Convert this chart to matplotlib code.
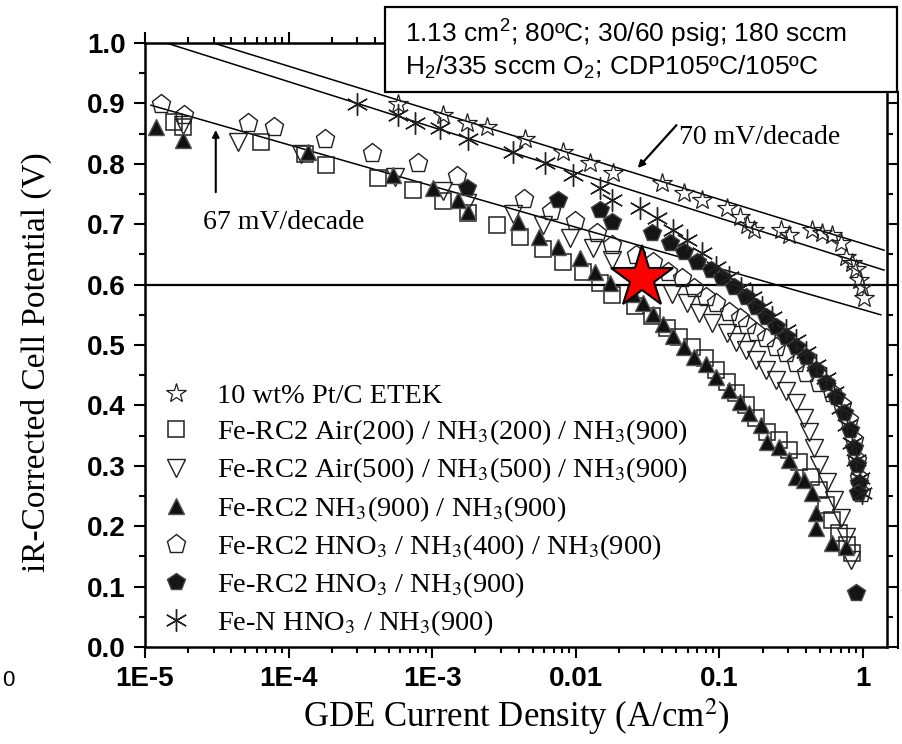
import matplotlib
matplotlib.use("Agg")
import matplotlib.pyplot as plt
import matplotlib.ticker as mtick
from matplotlib.patches import Rectangle
from matplotlib.lines import Line2D

plt.rcParams['mathtext.fontset'] = 'custom'
plt.rcParams['mathtext.rm'] = 'Liberation Sans'
plt.rcParams['mathtext.it'] = 'Liberation Sans:italic'
plt.rcParams['mathtext.bf'] = 'Liberation Sans:bold'

# ---- data (current density A/cm2, potential V) ----
pt_x = [5.8e-4, 1.19e-3, 1.75e-3, 2.41e-3, 4.43e-3, 8.1e-3, 0.0125, 0.0181, 0.0396, 0.0571,
        0.0762, 0.112, 0.138, 0.156, 0.175, 0.270, 0.306, 0.443, 0.519, 0.609, 0.703, 0.762,
        0.839, 0.894, 0.938, 0.985, 1.02]
pt_y = [0.899, 0.881, 0.868, 0.861, 0.841, 0.820, 0.801, 0.785, 0.768, 0.752,
        0.740, 0.727, 0.712, 0.699, 0.690, 0.690, 0.682, 0.690, 0.685, 0.682, 0.669, 0.646,
        0.636, 0.626, 0.608, 0.596, 0.578]

air200_x = [1.59e-5, 1.84e-5, 6.4e-5, 1.31e-4, 1.81e-4, 4.2e-4, 7.4e-4, 1.19e-3, 1.78e-3, 2.83e-3,
            4.08e-3, 5.9e-3, 8.1e-3, 0.0112, 0.0147, 0.0178, 0.0257, 0.0337, 0.0428, 0.0527,
            0.064, 0.0787, 0.095, 0.112, 0.131, 0.154, 0.181, 0.215, 0.261, 0.306,
            0.36, 0.435, 0.494, 0.553, 0.609, 0.681, 0.774, 0.839]
air200_y = [0.869, 0.861, 0.836, 0.816, 0.798, 0.776, 0.757, 0.738, 0.719, 0.699,
            0.679, 0.659, 0.637, 0.621, 0.603, 0.583, 0.565, 0.548, 0.528, 0.513,
            0.497, 0.478, 0.459, 0.439, 0.421, 0.401, 0.379, 0.356, 0.343, 0.326,
            0.306, 0.281, 0.260, 0.235, 0.210, 0.189, 0.169, 0.156]

air500_x = [1.84e-5, 4.43e-5, 1.21e-4, 5.5e-4, 1.19e-3, 1.75e-3, 3.65e-3, 5.9e-3, 9.1e-3, 0.0131,
            0.0178, 0.0278, 0.0464, 0.059, 0.0726, 0.0894, 0.112, 0.131, 0.154, 0.181,
            0.212, 0.249, 0.292, 0.343, 0.389, 0.422, 0.457, 0.494, 0.562, 0.629,
            0.703, 0.762, 0.826]
air500_y = [0.864, 0.836, 0.816, 0.778, 0.755, 0.735, 0.717, 0.699, 0.677, 0.661,
            0.641, 0.614, 0.584, 0.570, 0.553, 0.536, 0.520, 0.505, 0.492, 0.475,
            0.459, 0.442, 0.424, 0.404, 0.379, 0.356, 0.329, 0.301, 0.273, 0.243,
            0.214, 0.182, 0.144]

nh3_x = [1.19e-5, 1.84e-5, 1.36e-4, 5.3e-4, 1.02e-3, 1.52e-3, 1.78e-3, 3.95e-3, 5.5e-3, 7.5e-3,
         0.0107, 0.0136, 0.0172, 0.0249, 0.0292, 0.0343, 0.0402, 0.0472, 0.0571, 0.067,
         0.081, 0.095, 0.117, 0.138, 0.161, 0.196, 0.215, 0.261, 0.306, 0.343,
         0.389, 0.443, 0.472, 0.472, 0.609, 0.762]
nh3_y = [0.861, 0.839, 0.820, 0.781, 0.760, 0.740, 0.720, 0.704, 0.679, 0.662,
         0.644, 0.621, 0.603, 0.584, 0.570, 0.551, 0.535, 0.515, 0.497, 0.480,
         0.469, 0.447, 0.425, 0.406, 0.387, 0.368, 0.339, 0.331, 0.310, 0.281,
         0.276, 0.255, 0.222, 0.197, 0.172, 0.166]

hno3_400_x = [1.29e-5, 1.87e-5, 5.2e-5, 7.9e-5, 1.78e-4, 3.83e-4, 8.0e-4, 1.49e-3, 4.35e-3, 6.7e-3,
              9.8e-3, 0.0140, 0.0178, 0.0261, 0.0343, 0.0436, 0.0545, 0.067, 0.081, 0.095,
              0.117, 0.138, 0.156, 0.181, 0.212, 0.249, 0.292, 0.343, 0.402, 0.494,
              0.609, 0.714, 0.80, 0.866, 0.908, 0.938, 0.969]
hno3_400_y = [0.899, 0.881, 0.868, 0.861, 0.841, 0.818, 0.801, 0.780, 0.742, 0.722,
              0.705, 0.685, 0.666, 0.649, 0.637, 0.621, 0.611, 0.594, 0.579, 0.570,
              0.555, 0.545, 0.533, 0.522, 0.512, 0.497, 0.487, 0.470, 0.454, 0.437,
              0.421, 0.401, 0.376, 0.343, 0.310, 0.280, 0.255]

hno3_900_x = [1.75e-3, 7.5e-3, 0.0147, 0.0178, 0.0337, 0.045, 0.0571, 0.0703, 0.088, 0.105,
              0.127, 0.154, 0.181, 0.212, 0.249, 0.292, 0.343, 0.402, 0.472, 0.553,
              0.649, 0.738, 0.813, 0.866, 0.908, 0.938, 0.923, 0.894]
hno3_900_y = [0.760, 0.740, 0.724, 0.704, 0.685, 0.669, 0.654, 0.637, 0.624, 0.611,
              0.596, 0.579, 0.563, 0.546, 0.530, 0.513, 0.497, 0.480, 0.459, 0.437,
              0.414, 0.387, 0.359, 0.329, 0.301, 0.272, 0.255, 0.089]

fen_x = [3.0e-4, 5.8e-4, 7.6e-4, 1.14e-3, 1.78e-3, 3.65e-3, 6.1e-3, 9.5e-3, 0.0147, 0.0178,
         0.0278, 0.0365, 0.0472, 0.059, 0.076, 0.095, 0.117, 0.142, 0.169, 0.199,
         0.233, 0.292, 0.343, 0.402, 0.472, 0.553, 0.629, 0.703, 0.774, 0.839,
         0.894, 0.953, 0.985]
fen_y = [0.899, 0.881, 0.868, 0.859, 0.841, 0.820, 0.801, 0.781, 0.760, 0.740,
         0.727, 0.710, 0.690, 0.674, 0.652, 0.629, 0.613, 0.594, 0.579, 0.563,
         0.546, 0.525, 0.508, 0.488, 0.467, 0.445, 0.422, 0.396, 0.368, 0.338,
         0.310, 0.280, 0.255]

# Tafel fit lines (end points)
tafel70a_x = [3.0e-5, 1.40]
tafel70a_y = [1.0, 0.657]
tafel70b_x = [1.41e-5, 1.40]
tafel70b_y = [1.0, 0.624]
tafel67_x = [1.1e-5, 1.33]
tafel67_y = [0.897, 0.550]

star_x = [0.0287]
star_y = [0.611]

x_ticks = [1e-5, 1e-4, 1e-3, 1e-2, 1e-1, 1]
x_tick_labels = ['1E-5', '1E-4', '1E-3', '0.01', '0.1', '1']
y_ticks = [0.0, 0.1, 0.2, 0.3, 0.4, 0.5, 0.6, 0.7, 0.8, 0.9, 1.0]

labels = ['10 wt% Pt/C ETEK',
          'Fe-RC2 Air(200) / NH$_3$(200) / NH$_3$(900)',
          'Fe-RC2 Air(500) / NH$_3$(500) / NH$_3$(900)',
          'Fe-RC2 NH$_3$(900) / NH$_3$(900)',
          'Fe-RC2 HNO$_3$ / NH$_3$(400) / NH$_3$(900)',
          'Fe-RC2 HNO$_3$ / NH$_3$(900)',
          'Fe-N HNO$_3$ / NH$_3$(900)']

# ---- figure ----
fig = plt.figure(figsize=(9.03, 7.44), dpi=100)
ax = fig.add_axes([145 / 903, 1 - 647 / 744, 742 / 903, 604 / 744])
ax.set_xscale('log')
ax.set_xlim(1e-5, 1.468)
ax.set_ylim(0, 1.0)

ec = '#202020'
ax.plot(tafel70a_x, tafel70a_y, color='black', lw=1.1)
ax.plot(tafel70b_x, tafel70b_y, color='black', lw=1.1)
ax.plot(tafel67_x, tafel67_y, color='black', lw=1.1)
ax.axhline(0.6, color='black', lw=1.6)

h1, = ax.plot(pt_x, pt_y, ls='none', marker='*', ms=15, mfc='none', mec=ec, mew=0.9)
h2, = ax.plot(air200_x, air200_y, ls='none', marker='s', ms=12, mfc='none', mec=ec, mew=1.1)
h3, = ax.plot(air500_x, air500_y, ls='none', marker='v', ms=13, mfc='none', mec=ec, mew=1.0)
h4, = ax.plot(nh3_x, nh3_y, ls='none', marker='^', ms=12, mfc='#111111', mec='#555555', mew=1.0)
h5, = ax.plot(hno3_400_x, hno3_400_y, ls='none', marker='p', ms=14, mfc='none', mec=ec, mew=1.0)
h6, = ax.plot(hno3_900_x, hno3_900_y, ls='none', marker='p', ms=13, mfc='#151515', mec='#444444', mew=1.0)
h7, = ax.plot(fen_x, fen_y, ls='none', marker=(6, 2, 0), ms=16, mec=ec, mew=1.0)

ax.plot(star_x, star_y, ls='none', marker='*', ms=47, mfc='#ff0000', mec='black', mew=1.5, zorder=10)

# annotations
ax.text(0.0527, 0.844, '70 mV/decade', fontsize=20, family='Liberation Serif', va='center', ha='left')
ax.annotate('', xy=(0.027, 0.793), xytext=(0.0502, 0.864),
            arrowprops=dict(arrowstyle='-|>', color='black', lw=1.6, mutation_scale=10,
                            shrinkA=0, shrinkB=0))
ax.text(2.53e-5, 0.702, '67 mV/decade', fontsize=20, family='Liberation Serif', va='center', ha='left')
ax.annotate('', xy=(3.11e-5, 0.856), xytext=(3.11e-5, 0.753),
            arrowprops=dict(arrowstyle='-|>', color='black', lw=1.5, mutation_scale=10,
                            shrinkA=0, shrinkB=0))

# axes styling
for s in ax.spines.values():
    s.set_linewidth(1.8)
ax.xaxis.set_major_locator(mtick.FixedLocator(x_ticks))
ax.xaxis.set_major_formatter(mtick.FixedFormatter(x_tick_labels))
ax.xaxis.set_minor_locator(mtick.LogLocator(base=10, subs=range(2, 10), numticks=20))
ax.xaxis.set_minor_formatter(mtick.NullFormatter())
ax.set_yticks(y_ticks)
ax.set_yticklabels(['%.1f' % v for v in y_ticks])
ax.yaxis.set_minor_locator(mtick.MultipleLocator(0.05))
ax.tick_params(which='both', direction='out', top=True, right=True, width=1.5)
ax.tick_params(which='major', length=8, pad=6)
ax.tick_params(which='minor', length=4.5)
for t in ax.get_xticklabels() + ax.get_yticklabels():
    t.set_fontfamily('Liberation Sans')
    t.set_fontweight('bold')
    t.set_fontsize(20)

ax.set_xlabel('GDE Current Density (A/cm$^2$)', fontsize=25, family='Liberation Serif',
              math_fontfamily='stix')
ax.set_ylabel('iR-Corrected Cell Potential (V)', fontsize=24, family='Liberation Serif')
ax.xaxis.set_label_coords(0.5, -0.082)
ax.yaxis.set_label_coords(-0.126, 0.472)

leg = ax.legend([h1, h2, h3, h4, h5, h6, h7], labels, loc='lower left',
                bbox_to_anchor=(0.0106, 0.0), frameon=False, handlelength=1.0,
                handletextpad=0.95, labelspacing=0.294, borderaxespad=0.12, borderpad=0.2,
                prop={'family': 'Liberation Serif', 'size': 20.5})
for t in leg.get_texts():
    t.set_math_fontfamily('stix')

# condition box above the plot
fig.patches.append(Rectangle((385 / 903, 1 - 92 / 744), 512 / 903, 85 / 744,
                             transform=fig.transFigure, fill=True, facecolor='white',
                             edgecolor='black', lw=1.6, zorder=20))
fig.text(405 / 903, 1 - 43 / 744, '1.13 cm$^2$; 80\u00baC; 30/60 psig; 180 sccm',
         fontsize=19, family='Liberation Sans', va='baseline', zorder=21)
fig.text(405 / 903, 1 - 75 / 744, 'H$_2$/335 sccm O$_2$; CDP105\u00baC/105\u00baC',
         fontsize=19, family='Liberation Sans', va='baseline', zorder=21)
fig.lines.append(Line2D([898 / 903, 898 / 903], [1 - 92 / 744, 1 - 648 / 744],
                        transform=fig.transFigure, color='black', lw=1.5))
fig.text(2 / 903, 1 - 680 / 744, '0', fontsize=16, family='Liberation Sans', va='center')

fig.savefig('out.png', dpi=100)
